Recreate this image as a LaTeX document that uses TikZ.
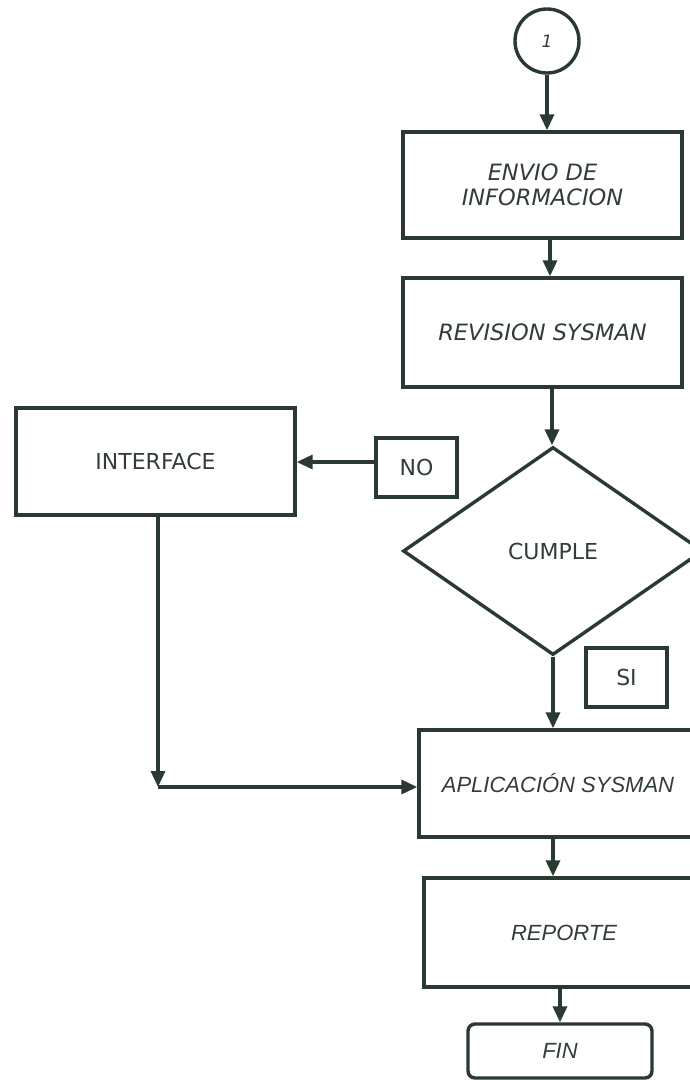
\documentclass[tikz,border=0pt]{standalone}
\usepackage{fontspec}
\newfontfamily\vfont{DejaVu Sans}
\newfontfamily\afont{Liberation Sans}
\usetikzlibrary{shapes.geometric,arrows.meta,calc}
\definecolor{ln}{HTML}{2B3A31}
\definecolor{tx}{HTML}{333D38}
\begin{document}
\begin{tikzpicture}[x=1pt,y=-1pt,
  every node/.style={inner sep=0pt, text=tx},
  lw/.style={line width=3.4pt, draw=ln},
  box/.style={rectangle, lw, fill=white},
  vtext/.style={font=\vfont\fontsize{22}{26}\selectfont},
  vitext/.style={font=\vfont\itshape\fontsize{22.5}{26}\selectfont, align=center},
  atext/.style={font=\afont\itshape\fontsize{22}{26}\selectfont},
  arr/.style={lw, -{Triangle[length=16pt,width=14pt]}}
]
\useasboundingbox (0,0) rectangle (689,1080);
\fill[white] (0,0) rectangle (689,1080);

\node[circle, lw, minimum size=64pt, font=\vfont\itshape\fontsize{17}{20}\selectfont] (circ) at (547,41) {1};
\node[box, minimum width=279pt, minimum height=106pt, vitext] (envio) at (542.5,185) {ENVIO DE\\[-1pt]INFORMACION};
\node[box, minimum width=279pt, minimum height=109pt, vitext] (revision) at (542.5,332.5) {REVISION SYSMAN};
\node[box, minimum width=279pt, minimum height=107pt, vtext] (iface) at (155.5,461.5) {INTERFACE};
\node[box, minimum width=81pt, minimum height=59pt, vtext] (no) at (416.5,467.5) {NO};
\node[diamond, lw, minimum width=300pt, minimum height=208pt, vtext] (cumple) at (553,551) {CUMPLE};
\node[box, minimum width=81pt, minimum height=59pt, vtext] (si) at (626.5,677.5) {SI};
\node[box, minimum width=278pt, minimum height=107pt, atext] (aplic) at (558,783.5) {APLICACIÓN SYSMAN};
\node[box, minimum width=280pt, minimum height=109pt, atext] (reporte) at (564,932.5) {REPORTE};
\node[box, rounded corners=7pt, minimum width=184pt, minimum height=54pt, atext] (fin) at (560,1051) {FIN};

\coordinate (corner) at (158,787);
\coordinate (a1) at (550,238);
\coordinate (a2) at (552,387);
\coordinate (a3) at (376,462);
\coordinate (a4) at (553,837);
\coordinate (a5) at (560,987);

\draw[arr] (circ.south) -- (circ.south |- envio.north);
\draw[arr] (a1) -- (a1 |- revision.north);
\draw[arr] (a2) -- (a2 |- cumple.north);
\draw[arr] (cumple.south) -- (cumple.south |- aplic.north);
\draw[arr] (a3) -- (a3 -| iface.east);
\draw[arr] (corner |- iface.south) -- (corner);
\draw[arr] (corner) -- (corner -| aplic.west);
\draw[arr] (a4) -- (a4 |- reporte.north);
\draw[arr] (a5) -- (a5 |- fin.north);
\end{tikzpicture}
\end{document}
